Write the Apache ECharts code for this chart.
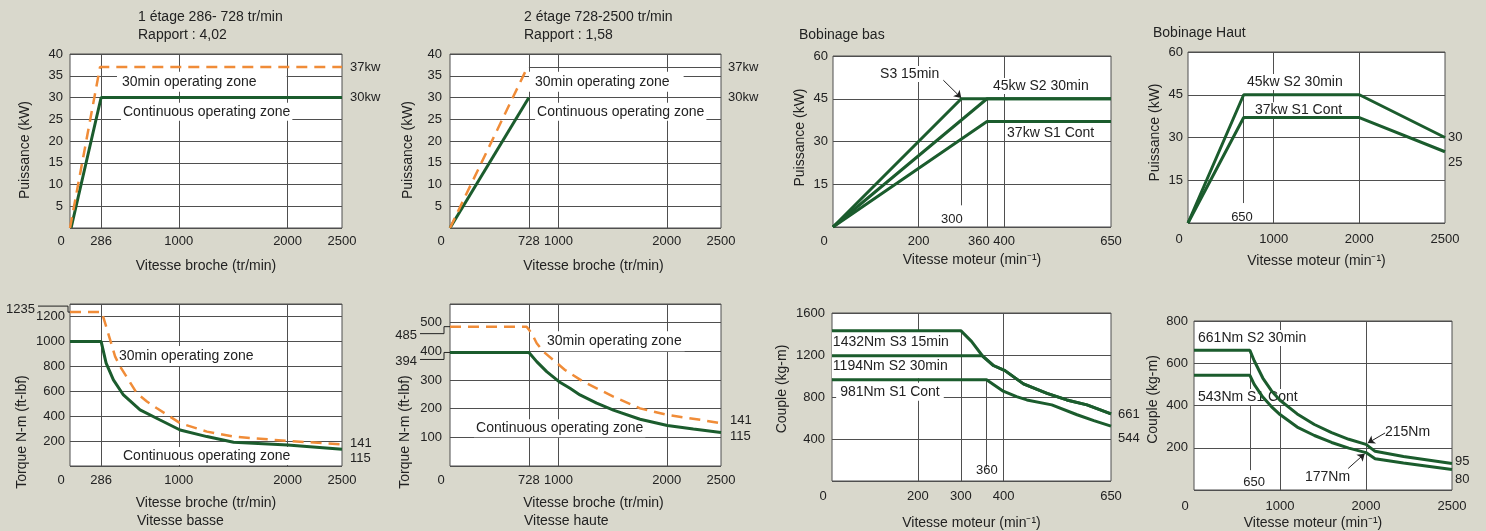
<!DOCTYPE html>
<html>
<head>
<meta charset="utf-8">
<script src="https://cdn.jsdelivr.net/npm/echarts@6/dist/echarts.min.js"></script>
<style>
    html, body { margin: 0; padding: 0; background: #d9d8cc; }
    #main { width: 1486px; height: 531px; }
</style>
</head>
<body>
<div id="main"></div>
<script>
var FONT = '"Liberation Sans", Arial, sans-serif';
var INK = '#222';
var RULE = '#4f4f4f';
var GREEN = '#1b5c2d';
var ORANGE = '#f08c38';
var TXT = 14;   // annotation / axis-name size
var NUM = 13;   // tick label size

// ---- broche, 1 etage (vitesse basse) ----
var basTicks = [0, 286, 1000, 2000, 2500];
var basRules = [286, 1000, 2000];
var basPowerCont = [[10, 0], [286, 30], [2500, 30]];
var basPower30 = [[0, 0], [276, 37], [2500, 37]];
var basTorqueCont = [[0, 1000], [286, 1000], [332, 825], [399, 691], [491, 570], [644, 450], [828, 369],
    [1012, 289], [1258, 236], [1503, 190], [2000, 169], [2500, 134]];
var basTorque30 = [[0, 1235], [292, 1235], [323, 1146], [369, 1012], [415, 878], [461, 798], [538, 691],
    [614, 584], [707, 517], [799, 463], [1014, 343], [1259, 276], [1505, 236], [2003, 201], [2500, 174]];

// ---- broche, 2 etage (vitesse haute) ----
var hautTicks = [0, 728, 1000, 2000, 2500];
var hautRules = [728, 1000, 2000];
var hautPowerCont = [[0, 0], [728, 30]];
var hautPower30 = [[0, 0], [715, 37]];
var hautTorqueCont = [[0, 396], [728, 396], [800, 364], [892, 329], [1006, 294], [1107, 271], [1199, 248],
    [1353, 219], [1507, 195], [1753, 163], [2005, 141], [2245, 129], [2500, 117]];
var hautTorque30 = [[0, 486], [707, 486], [753, 463], [800, 428], [861, 399], [953, 370], [1061, 335],
    [1230, 294], [1384, 265], [1507, 242], [1753, 201], [2005, 178], [2276, 163], [2500, 149]];

// ---- moteur, bobinage bas ----
var basMotTicks = [0, 200, 360, 400, 650];
var basCoupleTicks = [0, 200, 300, 400, 650];
var basS3 = [[0, 0], [300, 45], [650, 45]];
var basS2 = [[0, 0], [360, 45], [650, 45]];
var basS1 = [[0, 0], [360, 37], [650, 37]];
var coupleBasS3 = [[0, 1432], [300, 1432], [325, 1330], [349, 1200], [376, 1100], [403, 1051], [446, 925],
    [501, 834], [547, 772], [594, 725], [650, 640]];
var coupleBasS2 = [[0, 1194], [349, 1194], [376, 1100], [403, 1051], [446, 925], [501, 834], [547, 772],
    [594, 725], [650, 640]];
var coupleBasS1 = [[0, 965], [360, 965], [399, 855], [430, 803], [454, 772], [512, 725], [571, 631],
    [610, 575], [650, 522]];

// ---- moteur, bobinage haut ----
var hautMotTicks = [0, 1000, 2000, 2500];
var hautS2 = [[0, 0], [650, 45], [2000, 45], [2500, 30]];
var hautS1 = [[0, 0], [650, 37], [2000, 37], [2500, 25]];
var coupleHautS2 = [[0, 661], [650, 661], [700, 612], [800, 530], [900, 470], [1000, 425], [1200, 360],
    [1400, 310], [1600, 272], [1800, 240], [2000, 216], [2053, 183], [2218, 159], [2500, 125]];
var coupleHautS1 = [[0, 543], [650, 543], [700, 500], [800, 440], [900, 395], [1000, 357], [1200, 298],
    [1400, 258], [1600, 225], [1800, 198], [2000, 177], [2053, 148], [2218, 128], [2500, 97]];

// the upper-winding speed axis is printed with equal steps 0-1000-2000-2500
function hautPos(v) {
    if (v <= 1000) return v / 1000;
    if (v <= 2000) return 1 + (v - 1000) / 1000;
    return 2 + (v - 2000) / 500;
}
function toHaut(pts) {
    return pts.map(function (p) { return [hautPos(p[0]), p[1]]; });
}

var chart = echarts.init(document.getElementById('main'));

var rich = {
    z: {padding: [0, 18, 0, 0], color: INK, fontSize: NUM, fontFamily: FONT},
    l: {padding: [0, 16, 0, 0], color: INK, fontSize: NUM, fontFamily: FONT}
};
function plainLabel(v) {
    return v === 0 ? '{z|0}' : '' + v;
}
function motBasLabel(v) {
    if (v === 360) return '{l|360}';
    return plainLabel(v);
}
function motHautLabel(v) {
    return plainLabel(hautMotTicks[Math.round(v)]);
}

function xAx(g, max, ticks, name, gap, shift, margin, fmt) {
    return {
        type: 'value', gridIndex: g, min: 0, max: max,
        name: name, nameLocation: 'middle', nameGap: gap,
        nameTextStyle: {color: INK, fontSize: TXT, fontFamily: FONT,
            padding: shift > 0 ? [0, 0, 0, 2 * shift] : [0, -2 * shift, 0, 0]},
        axisLine: {show: false}, axisTick: {show: false}, splitLine: {show: false},
        axisLabel: {customValues: ticks, formatter: fmt || plainLabel, margin: margin,
            color: INK, fontSize: NUM, fontFamily: FONT, rich: rich}
    };
}
function yAx(g, max, step, ticks, name, gap, shift, margin) {
    return {
        type: 'value', gridIndex: g, min: 0, max: max, interval: step,
        name: name, nameLocation: 'middle', nameGap: gap,
        nameTextStyle: {color: INK, fontSize: TXT, fontFamily: FONT,
            padding: shift > 0 ? [0, 2 * shift, 0, 0] : [0, 0, 0, -2 * shift]},
        axisLine: {show: false}, axisTick: {show: false},
        splitLine: {lineStyle: {color: RULE, width: 1}},
        axisLabel: {customValues: ticks, margin: margin, color: INK, fontSize: NUM, fontFamily: FONT,
            formatter: function (v) { return '' + v; }}
    };
}
function curve(g, data, color, dashed, rules) {
    var s = {
        type: 'line', xAxisIndex: g, yAxisIndex: g, data: data, z: 5,
        symbol: 'none', silent: true, animation: false,
        lineStyle: {color: color, width: dashed ? 2.5 : 3, type: dashed ? [11, 7] : 'solid'}
    };
    if (rules) {
        s.markLine = {
            silent: true, symbol: 'none', z: 1, animation: false, label: {show: false},
            lineStyle: {color: RULE, width: 1, type: 'solid'}, data: rules
        };
    }
    return s;
}
function vRules(list) {
    return list.map(function (v) { return {xAxis: v}; });
}
function seg(a, b) {
    return [{coord: a}, {coord: b}];
}
function arrow(a, b) {
    return [{coord: a, symbol: 'none', lineStyle: {color: INK, width: 1}},
        {coord: b, symbol: 'arrow', symbolSize: 7}];
}

var gridBox = [
    {left: 70, top: 54, width: 272, height: 174},
    {left: 450, top: 54, width: 271, height: 174},
    {left: 833, top: 56, width: 278, height: 171},
    {left: 1188, top: 52, width: 257, height: 171},
    {left: 70, top: 304, width: 272, height: 162},
    {left: 450, top: 304, width: 271, height: 162},
    {left: 832, top: 313, width: 279, height: 171},
    {left: 1194, top: 321, width: 258, height: 171}
];

var option = {
    backgroundColor: '#d9d8cc',
    animation: false,
    textStyle: {color: INK, fontFamily: FONT},
    grid: gridBox.map(function (b) {
        return {left: b.left, top: b.top, width: b.width, height: b.height, show: true,
            backgroundColor: '#fff', borderColor: RULE, borderWidth: 1};
    }),
    xAxis: [
        xAx(0, 2500, basTicks, 'Vitesse broche (tr/min)', 31, 0, 7),
        xAx(1, 2500, hautTicks, 'Vitesse broche (tr/min)', 31, 8, 7),
        xAx(2, 650, basMotTicks, 'Vitesse moteur (min⁻¹)', 26, 0, 8, motBasLabel),
        xAx(3, 3, [0, 1, 2, 3], 'Vitesse moteur (min⁻¹)', 31, 0, 10, motHautLabel),
        xAx(4, 2500, basTicks, 'Vitesse broche (tr/min)', 30, 0, 8),
        xAx(5, 2500, hautTicks, 'Vitesse broche (tr/min)', 30, 8, 8),
        xAx(6, 650, basCoupleTicks, 'Vitesse moteur (min⁻¹)', 35, 0, 9),
        xAx(7, 3, [0, 1, 2, 3], 'Vitesse moteur (min⁻¹)', 26, -10, 10, motHautLabel)
    ],
    yAxis: [
        yAx(0, 40, 5, [5, 10, 15, 20, 25, 30, 35, 40], 'Puissance (kW)', 38, 9, 7),
        yAx(1, 40, 5, [5, 10, 15, 20, 25, 30, 35, 40], 'Puissance (kW)', 35, 9, 8),
        yAx(2, 60, 15, [15, 30, 45, 60], 'Puissance (kW)', 26, -4, 5),
        yAx(3, 60, 15, [15, 30, 45, 60], 'Puissance (kW)', 26, -5, 5),
        yAx(4, 1300, 200, [200, 400, 600, 800, 1000, 1200], 'Torque N-m (ft-lbf)', 41, 47, 5),
        yAx(5, 565, 100, [100, 200, 300, 400, 500], 'Torque N-m (ft-lbf)', 38, 47, 8),
        yAx(6, 1600, 400, [400, 800, 1200, 1600], 'Couple (kg-m)', 43, -8, 7),
        yAx(7, 800, 200, [200, 400, 600, 800], 'Couple (kg-m)', 34, -6, 6)
    ],
    series: [
        curve(0, basPowerCont, GREEN, false, vRules(basRules)),
        curve(0, basPower30, ORANGE, true),

        curve(1, hautPowerCont, GREEN, false,
            vRules(hautRules).concat([seg([728, 37], [2500, 37])])),
        curve(1, hautPower30, ORANGE, true),

        curve(2, basS3, GREEN, false, vRules([200, 400]).concat([
            seg([360, 45], [360, 0]),
            seg([300, 45], [300, 7.6]),
            arrow([258, 51.5], [300, 45.3])
        ])),
        curve(2, basS2, GREEN),
        curve(2, basS1, GREEN),

        curve(3, toHaut(hautS2), GREEN, false, vRules([1, 2]).concat([
            seg([hautPos(650), 45], [hautPos(650), 7])
        ])),
        curve(3, toHaut(hautS1), GREEN),

        curve(4, basTorqueCont, GREEN, false, vRules(basRules)),
        curve(4, basTorque30, ORANGE, true),

        curve(5, hautTorqueCont, GREEN, false, vRules(hautRules)),
        curve(5, hautTorque30, ORANGE, true),

        curve(6, coupleBasS3, GREEN, false, vRules([200, 400]).concat([
            {yAxis: 965},
            seg([300, 1432], [300, 0]),
            seg([360, 965], [360, 131])
        ])),
        curve(6, coupleBasS2, GREEN),
        curve(6, coupleBasS1, GREEN),

        curve(7, toHaut(coupleHautS2), GREEN, false, vRules([1, 2]).concat([
            seg([hautPos(650), 661], [hautPos(650), 94]),
            arrow([hautPos(2111), 270], [hautPos(2010), 222]),
            arrow([hautPos(1793), 102], [hautPos(1985), 172])
        ])),
        curve(7, toHaut(coupleHautS1), GREEN)
    ]
};
chart.setOption(option);

// ---- annotations, anchored on data coordinates ----
function px(g, x, y) {
    return chart.convertToPixel({gridIndex: g}, [x, y]);
}
function note(g, x, y, str, o) {
    o = o || {};
    var p = px(g, x, y);
    var pad = o.pad || [0, 0, 0, 0];
    var align = o.align || 'left';
    return {
        type: 'text', z: 3, silent: true,
        x: p[0] + (o.dx || 0) - (align === 'left' ? pad[3] : 0),
        y: p[1] + (o.dy || 0),
        style: {text: str, fill: INK, fontSize: o.size || TXT, fontFamily: FONT, align: align,
            verticalAlign: 'middle', backgroundColor: o.box ? '#fff' : null, padding: pad}
    };
}
function free(x, y, str) {
    return {type: 'text', z: 3, silent: true, x: x, y: y,
        style: {text: str, fill: INK, fontSize: TXT, fontFamily: FONT, align: 'left', verticalAlign: 'middle'}};
}
function bracket(g, level, str, up) {
    var p = px(g, 0, level);
    var ax = p[0], py = p[1];
    var off = up ? -6 : 7;
    var side = up ? 32 : 30;
    return [
        {type: 'polyline', z: 3, silent: true,
            shape: {points: [[ax - side, py + off], [ax - (up ? 2 : 6), py + off], [ax - (up ? 2 : 6), py], [ax, py]]},
            style: {stroke: INK, lineWidth: 1, fill: null}},
        {type: 'text', z: 3, silent: true, x: ax - side - 3, y: py + (up ? -3 : 9),
            style: {text: str, fill: INK, fontSize: NUM, fontFamily: FONT, align: 'right', verticalAlign: 'middle'}}
    ];
}

var graphics = [
    free(138, 17, '1 étage 286- 728 tr/min'),
    free(138, 35, 'Rapport : 4,02'),
    free(524, 17, '2 étage 728-2500 tr/min'),
    free(524, 35, 'Rapport : 1,58'),
    free(799, 35, 'Bobinage bas'),
    free(1153, 33, 'Bobinage Haut'),
    free(137, 521, 'Vitesse basse'),
    free(524, 521, 'Vitesse haute'),

    note(0, 478, 33.6, '30min operating zone', {box: true, pad: [3, 30, 3, 5]}),
    note(0, 487, 26.7, 'Continuous operating zone', {box: true, pad: [2, 2, 2, 2]}),
    note(0, 2500, 37, '37kw', {dx: 8, size: NUM}),
    note(0, 2500, 30, '30kw', {dx: 8, size: NUM}),

    note(1, 784, 33.6, '30min operating zone', {box: true, pad: [3, 14, 3, 6]}),
    note(1, 803, 26.7, 'Continuous operating zone', {box: true, pad: [2, 2, 2, 2]}),
    note(1, 2500, 37, '37kw', {dx: 7, size: NUM}),
    note(1, 2500, 30, '30kw', {dx: 7, size: NUM}),

    note(2, 110, 53.7, 'S3 15min', {box: true, pad: [1, 2, 1, 2]}),
    note(2, 374, 49.5, '45kw S2 30min', {box: true, pad: [1, 2, 1, 2]}),
    note(2, 407, 33, '37kw S1 Cont', {box: true, pad: [1, 2, 1, 2]}),
    note(2, 278, 2.8, '300', {align: 'center', size: NUM}),

    note(3, hautPos(689), 49.5, '45kw S2 30min', {box: true, pad: [1, 2, 1, 2]}),
    note(3, hautPos(782), 39.6, '37kw S1 Cont', {box: true, pad: [1, 2, 1, 2]}),
    note(3, hautPos(630), 2.1, '650', {align: 'center', size: NUM}),
    note(3, 3, 30, '30', {dx: 3, size: NUM}),
    note(3, 3, 25, '25', {dx: 3, dy: 11, size: NUM}),

    note(4, 450, 883, '30min operating zone', {box: true, pad: [3, 3, 3, 3]}),
    note(4, 487, 80, 'Continuous operating zone', {box: true, pad: [2, 2, 2, 2]}),
    note(4, 2500, 185, '141', {dx: 8, size: NUM}),
    note(4, 2500, 64, '115', {dx: 8, size: NUM}),

    note(5, 895, 435, '30min operating zone', {box: true, pad: [3, 3, 3, 3]}),
    note(5, 240, 132, 'Continuous operating zone', {box: true, pad: [2, 2, 2, 2]}),
    note(5, 2500, 160, '141', {dx: 9, size: NUM}),
    note(5, 2500, 104, '115', {dx: 9, size: NUM}),

    note(6, 2, 1319, '1432Nm S3 15min', {box: true, pad: [5, 4, 5, 1]}),
    note(6, 2, 1094, '1194Nm S2 30min', {box: true, pad: [5, 4, 5, 1]}),
    note(6, 19, 851, '981Nm S1 Cont', {box: true, pad: [2, 4, 2, 4]}),
    note(6, 361, 103, '360', {align: 'center', size: NUM}),
    note(6, 650, 636, '661', {dx: 7, size: NUM}),
    note(6, 650, 402, '544', {dx: 7, size: NUM}),

    note(7, hautPos(47), 720, '661Nm S2 30min', {box: true, pad: [1, 2, 1, 2]}),
    note(7, hautPos(47), 440, '543Nm S1 Cont', {box: true, pad: [1, 2, 1, 2]}),
    note(7, hautPos(2110), 276, '215Nm'),
    note(7, hautPos(1290), 61, '177Nm'),
    note(7, hautPos(698), 37, '650', {align: 'center', size: NUM}),
    note(7, 3, 136, '95', {dx: 3, size: NUM}),
    note(7, 3, 51, '80', {dx: 3, size: NUM})
];
graphics = graphics.concat(bracket(4, 1235, '1235', true));
graphics = graphics.concat(bracket(5, 486, '485', false));
graphics = graphics.concat(bracket(5, 396, '394', false));

chart.setOption({graphic: graphics});
</script>
</body>
</html>
